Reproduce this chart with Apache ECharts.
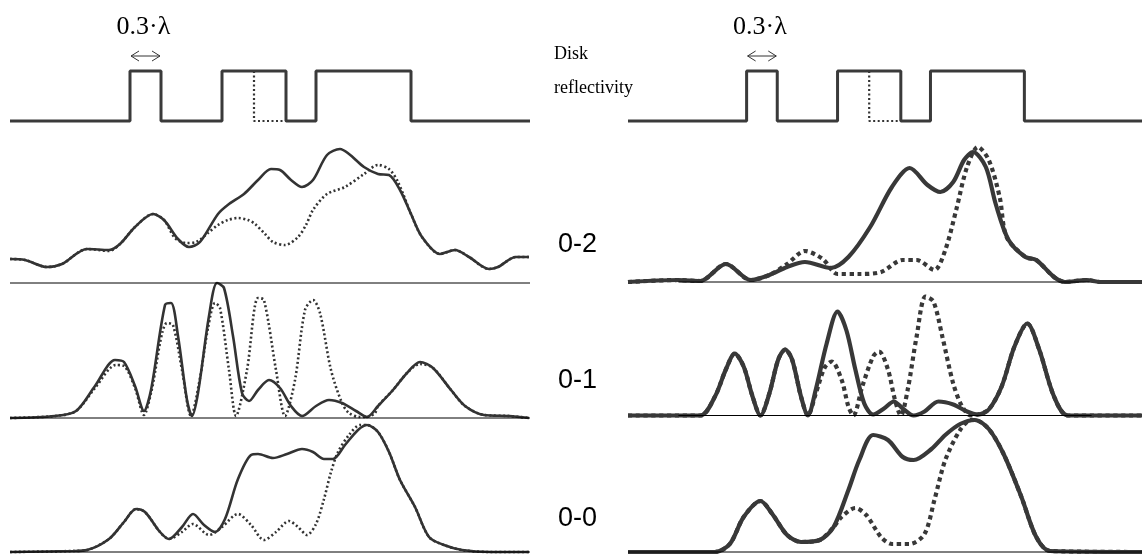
<!DOCTYPE html>
<html><head><meta charset="utf-8">
<script src="https://cdn.jsdelivr.net/npm/echarts@6/dist/echarts.min.js"></script>
<style>html,body{margin:0;padding:0;background:#fff}#c{width:1142px;height:554px}</style>
</head><body><div id="c"></div>
<script>
// ---- data (x: position along track, arb. units; y: signal, arb. units) ----
const pitEdges = [120, 151, 212, 276, 306, 401];
const trackEnd = 520;
const altEdge = 244;            // dotted variant of the second mark's trailing edge
const panelLabels = ['0-2', '0-1', '0-0'];
const markLabel = '0.3·λ';
const reflLabel = ['Disk', 'reflectivity'];

const left02Solid = [[0,24],[15,23],[37,16],[52,19],[77,34],[99,33],[110,39],[125,56],[143,69],[154,63],[168,44],[179,36],[190,41],[208,69],[219,79],[234,89],[248,103],[261,114],[270,113],[281,103],[292,96],[303,103],[317,128],[330,134],[339,129],[354,116],[368,109],[379,108],[390,93],[401,69],[412,46],[430,29],[445,33],[459,26],[479,14],[488,16],[506,26],[519,26]];
const left02Dotted = [[0,24],[15,23],[37,16],[52,19],[77,34],[99,32],[110,39],[125,56],[143,69],[154,63],[165,45],[176,40],[186,41],[198,50],[208,58],[218,63],[228,65],[238,63],[245,59],[255,49],[263,41],[275,38],[288,46],[296,58],[303,73],[317,89],[335,96],[354,109],[368,118],[379,114],[388,101],[401,69],[412,46],[430,29],[445,33],[459,26],[479,14],[488,16],[506,26],[519,26]];
const left01Solid = [[0,0],[45,2],[66,7],[85,32],[105,58],[114,56],[125,32],[134,7],[141,28],[155,113],[161,115],[168,82],[177,18],[182,2],[188,25],[199,102],[207,135],[214,130],[223,82],[232,25],[239,17],[248,28],[259,38],[270,30],[281,12],[292,2],[306,12],[319,18],[332,15],[346,7],[357,1],[368,12],[383,28],[397,45],[410,56],[423,50],[441,28],[455,12],[474,3],[499,2],[519,0]];
const left01Dotted = [[0,0],[45,2],[66,7],[85,30],[106,53],[114,52],[125,30],[134,3],[141,25],[157,95],[163,93],[172,48],[181,2],[190,40],[198,90],[205,115],[210,110],[219,48],[226,2],[237,48],[248,120],[254,118],[266,48],[275,2],[285,38],[295,108],[303,118],[310,105],[321,48],[332,15],[339,5],[350,1],[357,1],[365,5],[368,12],[383,28],[397,45],[410,54],[423,50],[441,28],[455,12],[474,3],[499,2],[519,0]];
const left00Solid = [[0,0],[63,1],[77,2],[99,13],[114,30],[126,43],[135,40],[150,20],[159,13],[172,25],[183,38],[194,27],[205,20],[215,33],[228,73],[241,97],[248,98],[263,94],[277,98],[292,103],[303,100],[314,93],[323,93],[335,107],[348,122],[357,127],[368,120],[379,100],[390,72],[405,45],[419,15],[434,7],[452,2],[481,0],[519,0]];
const left00Dotted = [[0,0],[63,1],[77,2],[99,13],[114,30],[126,43],[135,40],[150,20],[159,13],[172,20],[183,28],[199,17],[212,25],[228,38],[241,27],[254,12],[266,20],[279,31],[288,25],[297,17],[306,28],[314,53],[321,80],[328,100],[339,117],[350,127],[357,127],[368,120],[379,100],[390,72],[405,45],[419,15],[434,7],[452,2],[481,0],[519,0]];

const right02Solid = [[0,0],[51,2],[73,1],[99,18],[124,2],[143,7],[161,15],[179,20],[205,14],[223,25],[245,55],[267,95],[285,114],[303,97],[316,90],[329,100],[340,122],[349,130],[362,115],[372,78],[385,42],[402,25],[413,22],[431,5],[442,0],[464,2],[478,0],[520,0]];
const right02Dotted = [[0,0],[51,2],[73,1],[99,18],[124,2],[143,7],[161,18],[179,31],[197,23],[212,8],[234,8],[256,10],[278,22],[292,22],[310,12],[321,32],[332,72],[343,115],[354,135],[365,122],[376,85],[383,45],[402,25],[413,22],[431,5],[442,0],[464,2],[478,0],[520,0]];
const right01Solid = [[0,0],[73,0],[88,19],[99,46],[108,62],[117,49],[126,19],[134,0],[143,22],[152,56],[159,66],[166,56],[175,19],[182,0],[190,26],[201,72],[212,104],[221,85],[230,46],[239,12],[248,1],[259,7],[269,14],[278,7],[289,0],[300,4],[314,14],[329,11],[343,4],[354,1],[365,6],[378,29],[391,69],[404,92],[416,66],[431,19],[445,0],[520,0]];
const right01Dotted = [[0,0],[73,0],[88,19],[99,46],[108,62],[117,49],[126,19],[134,0],[143,22],[152,56],[159,66],[166,56],[175,19],[182,0],[190,22],[199,48],[206,54],[216,36],[223,9],[228,0],[237,29],[248,59],[254,64],[263,46],[270,16],[276,0],[283,26],[292,79],[301,119],[309,114],[318,79],[329,32],[338,9],[347,0],[354,1],[365,6],[378,29],[391,69],[404,92],[416,66],[431,19],[445,0],[520,0]];
const right00Solid = [[0,0],[88,0],[103,8],[117,35],[134,51],[146,38],[161,17],[175,10],[194,12],[208,25],[223,62],[234,92],[248,117],[263,112],[278,95],[289,92],[307,103],[321,117],[336,128],[351,132],[365,123],[380,98],[398,55],[413,15],[427,1],[520,0]];
const right00Dotted = [[0,0],[88,0],[103,8],[117,35],[134,51],[146,38],[161,17],[175,10],[194,12],[208,25],[216,35],[230,44],[241,37],[256,15],[267,8],[285,8],[300,18],[310,52],[321,92],[336,122],[347,132],[351,132],[365,123],[380,98],[398,55],[413,15],[427,1],[520,0]];

const leftBaseSpans = [[0,520],[0,520],[0,520]];
const rightBaseSpans = [[51,467],[51,469],[0,520]];

// ---- layout ----
const colLeft = [10, 628];
const colWidth = 520;
const reflTop = 71, reflHeight = 50;
const baselines = [[283, 418, 552], [282, 415.5, 552]];
const panelH = 140;

const curves = [
  [[left02Solid, left02Dotted], [left01Solid, left01Dotted], [left00Solid, left00Dotted]],
  [[right02Solid, right02Dotted], [right01Solid, right01Dotted], [right00Solid, right00Dotted]]
];
const baseSpans = [leftBaseSpans, rightBaseSpans];
const lineStyles = [
  {solid: {width: 2.6, color: '#333'}, dotted: {width: 2.6, color: '#333', type: [2, 2.5]}},
  {solid: {width: 4.2, color: '#383838'}, dotted: {width: 4.2, color: '#383838', type: [4.2, 3.6]}}
];

function reflData() {
  const d = [[0, 0]];
  pitEdges.forEach((e, i) => {
    const up = i % 2 === 0;
    d.push([e, up ? 0 : 1], [e, up ? 1 : 0]);
  });
  d.push([trackEnd, 0]);
  return d;
}

const grid = [], xAxis = [], yAxis = [], series = [];
for (let c = 0; c < 2; c++) {
  const gi = grid.length;
  grid.push({left: colLeft[c], width: colWidth, top: reflTop, height: reflHeight});
  xAxis.push({type: 'value', gridIndex: gi, min: 0, max: colWidth, show: false});
  yAxis.push({type: 'value', gridIndex: gi, min: 0, max: 1, show: false});
  series.push({type: 'line', xAxisIndex: gi, yAxisIndex: gi, data: reflData(), showSymbol: false,
    clip: false, lineStyle: {width: 3, color: '#3a3a3a'}, z: 3});
  series.push({type: 'line', xAxisIndex: gi, yAxisIndex: gi,
    data: [[altEdge, 1], [altEdge, 0], [pitEdges[3], 0]], showSymbol: false,
    clip: false, lineStyle: {width: 2.2, color: '#333', type: [2, 2.5]}, z: 2});
  for (let r = 0; r < 3; r++) {
    const g = grid.length;
    grid.push({left: colLeft[c], width: colWidth, top: baselines[c][r] - panelH, height: panelH});
    xAxis.push({type: 'value', gridIndex: g, min: 0, max: colWidth, show: false});
    yAxis.push({type: 'value', gridIndex: g, min: 0, max: panelH, show: false});
    const [sol, dot] = curves[c][r];
    series.push({type: 'line', xAxisIndex: g, yAxisIndex: g, data: dot, showSymbol: false, smooth: 0.3,
      clip: false, lineStyle: lineStyles[c].dotted, z: 2});
    series.push({type: 'line', xAxisIndex: g, yAxisIndex: g, data: sol, showSymbol: false, smooth: 0.3,
      clip: false, lineStyle: lineStyles[c].solid, z: 3});
    const sp = baseSpans[c][r];
    series.push({type: 'line', xAxisIndex: g, yAxisIndex: g, data: [[sp[0], 0], [sp[1], 0]],
      showSymbol: false, clip: false, lineStyle: {width: 1, color: '#000'}, z: 4});
  }
}

const chart = echarts.init(document.getElementById('c'), null, {renderer: 'canvas'});
chart.setOption({animation: false, backgroundColor: '#fff', grid, xAxis, yAxis, series});

// annotations
const graphic = [];
const serif = '"Liberation Serif", "Times New Roman", serif';
const sans = '"Liberation Sans", Arial, sans-serif';
for (let c = 0; c < 2; c++) {
  const gi = c * 4;
  const p0 = chart.convertToPixel({gridIndex: gi}, [pitEdges[0], 1]);
  const p1 = chart.convertToPixel({gridIndex: gi}, [pitEdges[1], 1]);
  const ay = 56, ah = 5, al = 8;
  const x0 = p0[0] + 1, x1 = p1[0] - 1;
  const st = {stroke: '#333', lineWidth: 1, fill: null};
  graphic.push({type: 'polyline', shape: {points: [[x0, ay], [x1, ay]]}, style: st});
  graphic.push({type: 'polyline', shape: {points: [[x0 + al, ay - ah], [x0, ay], [x0 + al, ay + ah]]}, style: st});
  graphic.push({type: 'polyline', shape: {points: [[x1 - al, ay - ah], [x1, ay], [x1 - al, ay + ah]]}, style: st});
  graphic.push({type: 'text', x: (x0 + x1) / 2 - 2, y: 40, style: {text: markLabel, font: '26px ' + serif, fill: '#000', align: 'center', verticalAlign: 'bottom'}});
}
graphic.push({type: 'text', x: 554, y: 63, style: {text: reflLabel[0], font: '18px ' + serif, fill: '#000', align: 'left', verticalAlign: 'bottom'}});
graphic.push({type: 'text', x: 554, y: 97, style: {text: reflLabel[1], font: '18px ' + serif, fill: '#000', align: 'left', verticalAlign: 'bottom'}});
const labelY = [245, 381, 519];
panelLabels.forEach((t, i) => {
  graphic.push({type: 'text', x: 558, y: labelY[i], style: {text: t, font: '27px ' + sans, fill: '#000', align: 'left', verticalAlign: 'middle'}});
});
chart.setOption({graphic});
</script></body></html>
